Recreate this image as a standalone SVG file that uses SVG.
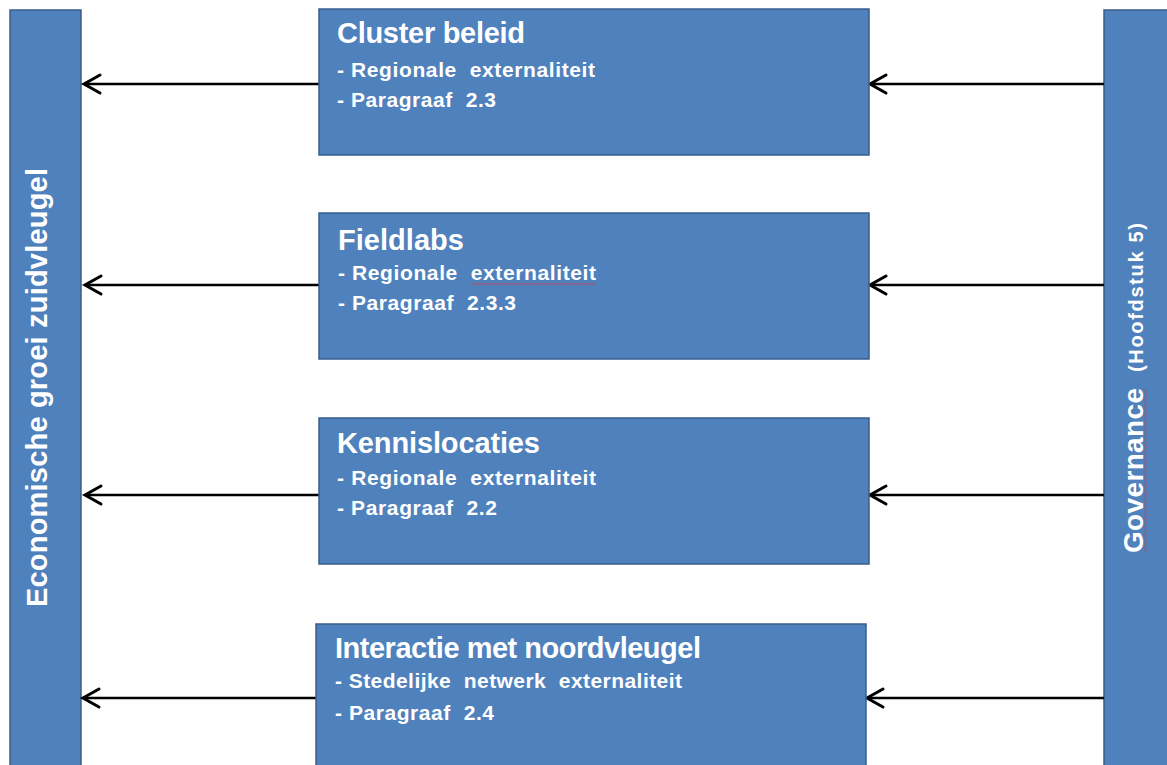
<svg xmlns="http://www.w3.org/2000/svg" width="1167" height="765" viewBox="0 0 1167 765">
  <defs>
    <style>
      .bar, .box { fill: #4F81BD; stroke: #385D8A; stroke-width: 1.5; }
      .t { fill: #FFFFFF; font-family: "Liberation Sans", Arial, sans-serif; font-weight: bold; white-space: pre; }
      .title { font-size: 29px; }
      .sub { font-size: 21px; }
      .conn { stroke: #000000; stroke-width: 2.6; fill: none; marker-end: url(#chev); }
    </style>
    <marker id="chev" markerUnits="userSpaceOnUse" viewBox="-20 -12 24 24" refX="0" refY="0" markerWidth="24" markerHeight="24" orient="auto">
      <path d="M-16 -9 L0 0 L-16 9" fill="none" stroke="#000000" stroke-width="3" stroke-linecap="round" stroke-linejoin="miter"/>
    </marker>
    <pattern id="squiggle" patternUnits="userSpaceOnUse" width="4" height="3">
      <path d="M0 0.5 L2 2.5 L4 0.5" fill="none" stroke="#E0383A" stroke-width="0.9"/>
    </pattern>
  </defs>

  <rect width="1167" height="765" fill="#FFFFFF"/>

  <!-- left column -->
  <g id="economische-groei">
    <rect class="bar" x="10" y="10" width="71" height="770"/>
    <text class="t" font-size="29" transform="translate(47,607) rotate(-90)" textLength="439" lengthAdjust="spacing">Economische groei zuidvleugel</text>
  </g>

  <!-- right column -->
  <g id="governance">
    <rect class="bar" x="1104" y="10" width="80" height="770"/>
    <text class="t" font-size="28" transform="translate(1143,553) rotate(-90)" textLength="165" lengthAdjust="spacing">Governance</text>
    <text class="t" font-size="20" transform="translate(1143,372) rotate(-90)" textLength="149" lengthAdjust="spacing">(Hoofdstuk 5)</text>
    <rect transform="translate(1144,553) rotate(-90)" x="0" y="0" width="165" height="3" fill="url(#squiggle)"/>
  </g>

  <!-- connectors -->
  <g id="connectors">
    <line class="conn" x1="319" y1="84" x2="84" y2="84"/>
    <line class="conn" x1="1104" y1="84" x2="870" y2="84"/>
    <line class="conn" x1="319" y1="285" x2="85" y2="285"/>
    <line class="conn" x1="1104" y1="285" x2="870" y2="285"/>
    <line class="conn" x1="319" y1="495" x2="85" y2="495"/>
    <line class="conn" x1="1104" y1="495" x2="870" y2="495"/>
    <line class="conn" x1="316" y1="698" x2="83" y2="698"/>
    <line class="conn" x1="1104" y1="698" x2="867" y2="698"/>
  </g>

  <g id="cluster-beleid">
    <rect class="box" x="319" y="9" width="550" height="146"/>
    <text class="t title" x="337" y="43" textLength="188" lengthAdjust="spacing">Cluster beleid</text>
    <text class="t sub" x="337" y="77" textLength="258" lengthAdjust="spacing">- Regionale  externaliteit</text>
    <text class="t sub" x="337" y="107" textLength="159" lengthAdjust="spacing">- Paragraaf  2.3</text>
  </g>

  <g id="fieldlabs">
    <rect class="box" x="319" y="213" width="550" height="146"/>
    <text class="t title" x="338" y="250" textLength="126" lengthAdjust="spacing">Fieldlabs</text>
    <text class="t sub" x="338" y="280" textLength="258" lengthAdjust="spacing">- Regionale  externaliteit</text>
    <text class="t sub" x="338" y="310" textLength="178" lengthAdjust="spacing">- Paragraaf  2.3.3</text>
    <rect x="472" y="283" width="124" height="3" fill="url(#squiggle)"/>
  </g>

  <g id="kennislocaties">
    <rect class="box" x="319" y="418" width="550" height="146"/>
    <text class="t title" x="337" y="453" textLength="203" lengthAdjust="spacing">Kennislocaties</text>
    <text class="t sub" x="337" y="485" textLength="259" lengthAdjust="spacing">- Regionale  externaliteit</text>
    <text class="t sub" x="337" y="515" textLength="160" lengthAdjust="spacing">- Paragraaf  2.2</text>
  </g>

  <g id="interactie-noordvleugel">
    <rect class="box" x="316" y="624" width="550" height="160"/>
    <text class="t title" x="335" y="658" textLength="366" lengthAdjust="spacing" font-weight="normal">Interactie met noordvleugel</text>
    <text class="t sub" x="335" y="688" textLength="347" lengthAdjust="spacing">- Stedelijke  netwerk  externaliteit</text>
    <text class="t sub" x="335" y="720" textLength="159" lengthAdjust="spacing">- Paragraaf  2.4</text>
  </g>
</svg>
